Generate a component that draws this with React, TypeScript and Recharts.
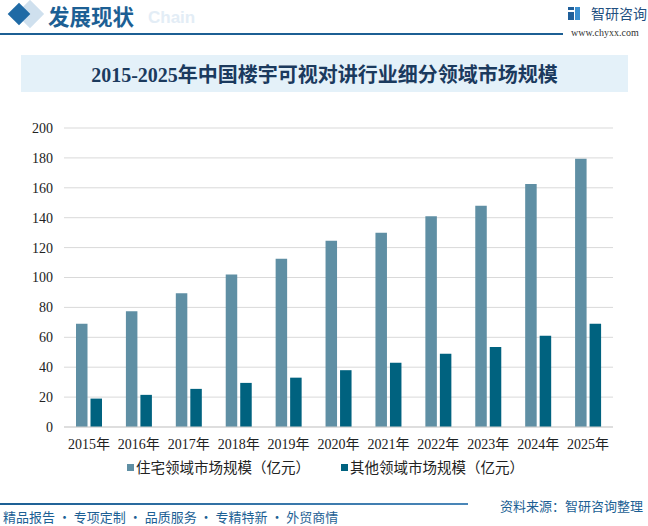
import React from 'react';
import { BarChart, Bar, XAxis, YAxis, CartesianGrid } from 'recharts';

const years = ['2015年', '2016年', '2017年', '2018年', '2019年', '2020年', '2021年', '2022年', '2023年', '2024年', '2025年'];
const residential = [69, 77.5, 89.5, 102, 112.5, 124.5, 130, 141, 148, 162.5, 179.5];
const others = [19, 21.5, 25.5, 29.5, 33, 38, 43, 49, 53.5, 61, 69];
const yTicks = [0, 20, 40, 60, 80, 100, 120, 140, 160, 180, 200];
const seriesNames = ['住宅领域市场规模（亿元）', '其他领域市场规模（亿元）'];

const LIGHT = '#5f8fa4';
const DARK = '#00627f';
const BLUE = '#1c5f94';

const data = years.map((y, i) => ({ year: y, a: residential[i], b: others[i] }));

const serifFont = "'Liberation Serif', 'DejaVu Serif', 'Noto Sans CJK SC', serif";
const cjkFont = "'Noto Sans CJK SC', 'Noto Sans', sans-serif";

export default function App() {
  return (
    <div style={{ position: 'fixed', left: 0, top: 0, width: 648, height: 526, background: '#fff', overflow: 'hidden' }}>
      {/* header */}
      <div style={{ position: 'absolute', left: 20, top: 4, width: 20, height: 20, background: '#cfe0ee', transform: 'rotate(45deg)' }} />
      <div style={{ position: 'absolute', left: 11, top: 6, width: 16, height: 16, background: '#1f6aa5', transform: 'rotate(45deg)' }} />
      <div style={{ position: 'absolute', left: 148, top: 8, fontFamily: "'Liberation Sans', Arial, sans-serif", fontWeight: 'bold', fontSize: 17, color: '#e3edf6', whiteSpace: 'nowrap', lineHeight: '20px' }}>Chain</div>
      <div style={{ position: 'absolute', left: 48, top: 0, fontFamily: cjkFont, fontWeight: 'bold', fontSize: 21.5, color: BLUE, whiteSpace: 'nowrap', lineHeight: 'normal' }}>发展现状</div>
      <div style={{ position: 'absolute', left: 0, top: 33, width: 563, height: 2, background: BLUE }} />
      {/* logo */}
      <div style={{ position: 'absolute', left: 568, top: 7, width: 12, height: 13 }}>
        <div style={{ position: 'absolute', left: 0, top: 0, width: 6, height: 3, background: '#1f5f9a' }} />
        <div style={{ position: 'absolute', left: 0, top: 5, width: 6, height: 8, background: '#1f5f9a' }} />
        <div style={{ position: 'absolute', left: 7, top: 0, width: 5, height: 13, background: '#3a8fd0' }} />
      </div>
      <div style={{ position: 'absolute', left: 591, top: 3, fontFamily: cjkFont, fontSize: 14, color: '#1f4f80', whiteSpace: 'nowrap', lineHeight: '20px' }}>智研咨询</div>
      <div style={{ position: 'absolute', left: 571, top: 27, fontFamily: serifFont, fontSize: 10, color: '#333', whiteSpace: 'nowrap', lineHeight: '12px' }}>www.chyxx.com</div>
      {/* title */}
      <div style={{ position: 'absolute', left: 21, top: 55, width: 607, height: 37, background: '#e4f1f9', display: 'flex', alignItems: 'center', justifyContent: 'center' }}>
        <span style={{ fontFamily: serifFont, fontWeight: 'bold', fontSize: 20, color: '#1b3a5e', whiteSpace: 'nowrap' }}>2015-2025年中国楼宇可视对讲行业细分领域市场规模</span>
      </div>
      {/* chart */}
      <div style={{ position: 'absolute', left: 0, top: 0 }}>
        <BarChart width={648} height={526} data={data} margin={{ top: 128, right: 35, bottom: 69, left: 0 }} barSize={11.5} barGap={3}>
          <CartesianGrid vertical={false} stroke="#d9d9d9" />
          <XAxis dataKey="year" axisLine={{ stroke: '#d0d0d0' }} tickLine={false} height={30} tickMargin={6}
            tick={{ fill: '#222', fontSize: 14, fontFamily: serifFont }} interval={0} />
          <YAxis width={64} domain={[0, 200]} ticks={yTicks} axisLine={false} tickLine={false} tickMargin={5}
            tick={{ fill: '#222', fontSize: 14, fontFamily: serifFont }} />
          <Bar dataKey="a" fill={LIGHT} isAnimationActive={false} />
          <Bar dataKey="b" fill={DARK} isAnimationActive={false} />
        </BarChart>
      </div>
      {/* legend */}
      <div style={{ position: 'absolute', left: 127, top: 464, width: 7, height: 7, background: LIGHT }} />
      <div style={{ position: 'absolute', left: 136, top: 457, fontFamily: cjkFont, fontSize: 14.5, color: '#222', whiteSpace: 'nowrap', lineHeight: '20px' }}>{seriesNames[0]}</div>
      <div style={{ position: 'absolute', left: 341, top: 464, width: 7, height: 7, background: DARK }} />
      <div style={{ position: 'absolute', left: 350, top: 457, fontFamily: cjkFont, fontSize: 14.5, color: '#222', whiteSpace: 'nowrap', lineHeight: '20px' }}>{seriesNames[1]}</div>
      {/* footer */}
      <div style={{ position: 'absolute', left: 0, top: 503, width: 468, height: 2, background: 'linear-gradient(to right, #1c5f94, #4a86b8)' }} />
      <div style={{ position: 'absolute', left: 500, top: 497, fontFamily: cjkFont, fontSize: 13, color: BLUE, whiteSpace: 'nowrap', lineHeight: '18px' }}>资料来源：智研咨询整理</div>
      <div style={{ position: 'absolute', left: 3, top: 509, fontFamily: cjkFont, fontSize: 13, color: BLUE, whiteSpace: 'nowrap', lineHeight: '16px' }}>精品报告 · 专项定制 · 品质服务 · 专精特新 · 外贸商情</div>
    </div>
  );
}
